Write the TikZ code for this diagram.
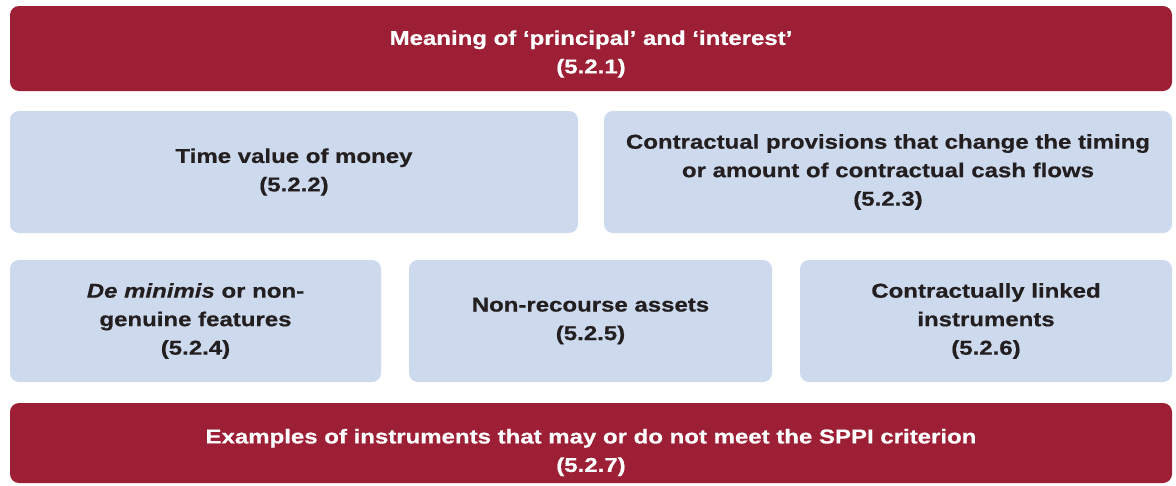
\documentclass[tikz,border=0pt]{standalone}
\usepackage{fontspec}
\setmainfont[FakeStretch=1.2,BoldFeatures={FakeBold=0.6},BoldItalicFeatures={FakeBold=0.6}]{Liberation Sans}
\definecolor{kred}{HTML}{9D1F35}
\definecolor{kblue}{HTML}{CDD9EC}
\definecolor{ktext}{HTML}{231F20}
\begin{document}
\begin{tikzpicture}[x=1pt,y=-1pt,
  txt/.style={inner sep=0pt, align=center,
    font=\fontsize{20}{28.5}\selectfont\bfseries},
  box/.style={txt, rounded corners=9pt},
  redbox/.style={box, fill=kred, text=white},
  bluebox/.style={box, fill=kblue, text=ktext}]
\useasboundingbox (0,0) rectangle (1176,485);
\node[redbox, minimum width=1162pt, minimum height=85pt] (meaning) at (591,48.5) {};
\node[txt, text=white] (meaningtxt) at ([yshift=-5.5pt]meaning.center)
  {Meaning of ‘principal’ and ‘interest’\\(5.2.1)};
\node[bluebox, minimum width=568pt, minimum height=122pt] (tvm) at (294,172)
  {Time value of money\\(5.2.2)};
\node[bluebox, minimum width=568pt, minimum height=122pt] (prov) at (888,172)
  {Contractual provisions that change the timing\\or amount of contractual cash flows\\(5.2.3)};
\node[bluebox, minimum width=371pt, minimum height=122pt] (demin) at (195.5,321)
  {\textit{De minimis} or non-\\genuine features\\(5.2.4)};
\node[bluebox, minimum width=363pt, minimum height=122pt] (nonrec) at (590.5,321)
  {Non-recourse assets\\(5.2.5)};
\node[bluebox, minimum width=372pt, minimum height=122pt] (cli) at (986,321)
  {Contractually linked\\instruments\\(5.2.6)};
\node[redbox, minimum width=1162pt, minimum height=80pt] (examples) at (591,443) {};
\node[txt, text=white] (examplestxt) at ([yshift=-9.5pt]examples.center)
  {Examples of instruments that may or do not meet the SPPI criterion\\(5.2.7)};
\end{tikzpicture}
\end{document}
